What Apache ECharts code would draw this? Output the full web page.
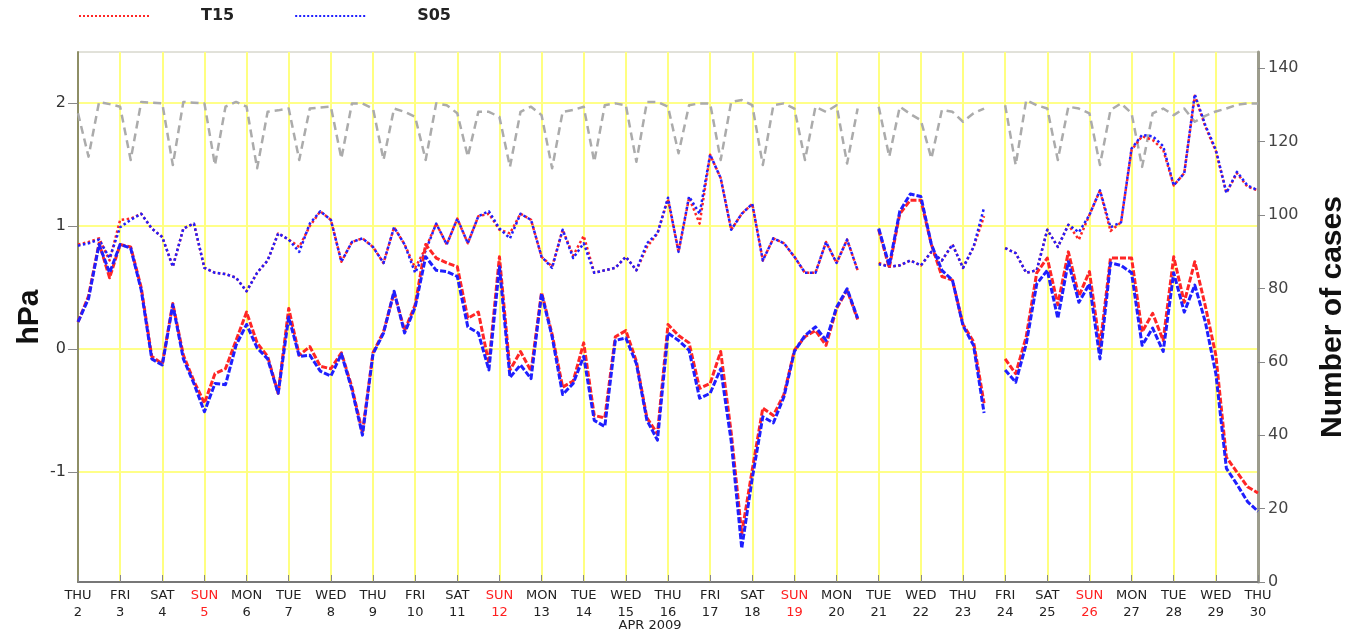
<!DOCTYPE html>
<html>
<head>
<meta charset="utf-8">
<script src="https://cdn.jsdelivr.net/npm/echarts@6/dist/echarts.min.js"></script>
<style>
  html, body { margin: 0; padding: 0; background: #ffffff; }
  #chart { width: 1348px; height: 632px; }
</style>
</head>
<body>
<div id="chart"></div>
<script>
// Day tick labels, 2-30 April 2009
const dayNames = ['THU','FRI','SAT','SUN','MON','TUE','WED','THU','FRI','SAT','SUN','MON','TUE','WED',
                  'THU','FRI','SAT','SUN','MON','TUE','WED','THU','FRI','SAT','SUN','MON','TUE','WED','THU'];
const dayNums = [2,3,4,5,6,7,8,9,10,11,12,13,14,15,16,17,18,19,20,21,22,23,24,25,26,27,28,29,30];
const hours = [0, 6, 12, 18];

// 6-hourly verification times (00, 06, 12, 18 UTC), last one 30 Apr 00 UTC
const times = [];
dayNums.forEach((d, k) => {
  hours.forEach(h => {
    if (k < dayNums.length - 1 || h === 0) times.push(d + ' ' + String(h).padStart(2, '0') + 'Z');
  });
});

// Upper pair (dotted), hPa
const t15Upper = [
  0.85,0.87,0.90,0.72, 1.05,1.06,1.10,0.98, 0.91,0.67,0.98,1.02, 0.66,0.62,0.61,0.58,
  0.47,0.62,0.72,0.94, 0.89,0.83,1.00,1.12, 1.05,0.71,0.87,0.90, 0.83,0.70,0.99,0.85,
  0.66,0.82,1.02,0.85, 1.06,0.86,1.08,1.10, 0.97,0.94,1.10,1.05, 0.75,0.67,0.97,0.76,
  0.92,0.62,0.64,0.66, 0.75,0.64,0.83,0.94, 1.22,0.79,1.23,1.02, 1.58,1.39,0.97,1.10,
  1.18,0.72,0.90,0.86, 0.75,0.62,0.62,0.87, 0.70,0.89,0.64,null, 0.70,0.67,0.68,0.72,
  0.68,0.79,0.72,0.85, 0.66,0.83,1.08,null, 0.82,0.78,0.62,0.64, 0.97,0.83,1.01,0.89,
  1.09,1.29,0.96,1.03, 1.62,1.73,1.70,1.62, 1.33,1.43,2.06,1.81, 1.61,1.27,1.43,1.32,
  1.29
];
const s05Upper = [
  0.84,0.86,0.89,0.74, 0.99,1.05,1.10,0.98, 0.91,0.67,0.98,1.02, 0.66,0.62,0.61,0.58,
  0.47,0.62,0.72,0.94, 0.89,0.79,1.02,1.12, 1.05,0.71,0.87,0.90, 0.83,0.70,0.99,0.85,
  0.62,0.80,1.02,0.85, 1.06,0.86,1.08,1.12, 0.98,0.90,1.10,1.05, 0.75,0.66,0.97,0.74,
  0.86,0.62,0.64,0.66, 0.75,0.64,0.86,0.94, 1.23,0.79,1.24,1.10, 1.58,1.39,0.97,1.10,
  1.18,0.72,0.90,0.86, 0.75,0.62,0.62,0.87, 0.70,0.89,0.64,null, 0.69,0.67,0.68,0.72,
  0.68,0.79,0.72,0.85, 0.66,0.83,1.15,null, 0.82,0.78,0.62,0.64, 0.97,0.83,1.01,0.95,
  1.09,1.29,0.99,1.03, 1.63,1.74,1.73,1.65, 1.33,1.43,2.07,1.82, 1.62,1.27,1.44,1.33,
  1.29
];

// Lower pair (dashed), hPa
const t15Lower = [
  0.22,0.43,0.86,0.58, 0.85,0.83,0.50,-0.06, -0.12,0.37,-0.05,-0.26, -0.44,-0.20,-0.16,0.07,
  0.30,0.05,-0.06,-0.36, 0.33,-0.05,0.02,-0.14, -0.16,-0.03,-0.31,-0.68, -0.03,0.14,0.46,0.15,
  0.36,0.85,0.74,0.70, 0.67,0.25,0.30,-0.12, 0.75,-0.17,-0.02,-0.18, 0.46,0.12,-0.31,-0.26,
  0.05,-0.54,-0.56,0.10, 0.15,-0.10,-0.56,-0.69, 0.20,0.11,0.05,-0.32, -0.28,-0.02,-0.68,-1.50,
  -0.98,-0.48,-0.54,-0.37, -0.01,0.10,0.15,0.03, 0.33,0.48,0.24,null, 0.97,0.66,1.10,1.21,
  1.21,0.85,0.59,0.56, 0.20,0.06,-0.44,null, -0.08,-0.20,0.10,0.62, 0.74,0.36,0.79,0.43,
  0.63,0.02,0.74,0.74, 0.74,0.14,0.29,0.07, 0.75,0.38,0.71,0.35, -0.05,-0.88,-1.00,-1.12,
  -1.17
];
const s05Lower = [
  0.22,0.41,0.85,0.62, 0.85,0.82,0.48,-0.08, -0.13,0.36,-0.08,-0.28, -0.51,-0.28,-0.29,0.03,
  0.20,0.01,-0.08,-0.36, 0.26,-0.06,-0.05,-0.18, -0.22,-0.04,-0.33,-0.70, -0.04,0.13,0.47,0.13,
  0.34,0.75,0.64,0.63, 0.59,0.18,0.13,-0.17, 0.67,-0.23,-0.13,-0.24, 0.45,0.10,-0.37,-0.28,
  -0.06,-0.58,-0.63,0.07, 0.09,-0.12,-0.58,-0.74, 0.13,0.07,-0.01,-0.40, -0.36,-0.16,-0.75,-1.62,
  -1.05,-0.55,-0.60,-0.39, -0.02,0.11,0.18,0.07, 0.34,0.49,0.25,null, 0.98,0.68,1.12,1.26,
  1.24,0.85,0.64,0.56, 0.19,0.03,-0.52,null, -0.17,-0.27,0.04,0.53, 0.64,0.25,0.71,0.38,
  0.53,-0.08,0.70,0.68, 0.62,0.03,0.17,-0.02, 0.62,0.30,0.52,0.22, -0.20,-0.97,-1.10,-1.24,
  -1.32
];

// Number of cases (right axis)
const cases = [
  127.7,115.9,130.8,130.2, 129.5,115.0,130.8,130.6, 130.4,113.6,130.8,130.6, 130.4,113.6,129.5,130.8,
  129.5,112.7,128.1,128.5, 129.0,115.0,129.0,129.3, 129.5,115.4,130.4,130.4, 129.0,115.0,129.0,128.1,
  126.7,115.0,130.4,129.9, 127.7,115.9,128.1,128.1, 126.7,113.1,128.1,129.5, 127.2,112.7,128.1,128.6,
  129.5,114.5,129.9,130.4, 129.9,114.5,130.8,130.8, 129.5,116.8,129.9,130.4, 130.4,115.0,130.8,131.3,
  129.9,113.6,129.9,130.4, 129.0,115.0,129.5,128.1, 129.9,114.0,129.0,null, 129.5,115.9,129.5,127.5,
  125.8,115.4,128.6,128.1, 125.4,127.7,129.0,null, 129.9,113.6,131.3,129.9, 129.0,115.0,129.5,129.0,
  127.7,113.6,128.6,130.4, 127.7,113.1,127.7,129.0, 127.2,129.0,125.4,127.0, 128.2,129.0,130.0,130.4,
  130.4
];

const hpaTicks = [-1, 0, 1, 2];
const caseTicks = [0, 20, 40, 60, 80, 100, 120, 140];

const RED = '#ff2626';
const BLUE = '#1f1fff';
const GREY = '#ababab';
const LABEL_FONT = 'DejaVu Sans, Liberation Sans, sans-serif';
const TITLE_FONT = 'Liberation Sans, Arial, sans-serif';
const onDay = (i) => i % 4 === 0;

function line(name, data, color, dash, width, yAxisIndex) {
  return {
    name, type: 'line', data, yAxisIndex,
    symbol: 'none', showSymbol: false, connectNulls: false,
    lineStyle: { color, width, type: dash, cap: 'butt', join: 'round' },
    itemStyle: { color },
    emphasis: { disabled: true },
    animation: false
  };
}

const chart = echarts.init(document.getElementById('chart'), null, { renderer: 'canvas' });
chart.setOption({
  backgroundColor: '#ffffff',
  textStyle: { fontFamily: LABEL_FONT },
  legend: {
    data: ['T15', 'S05'],
    left: 78, top: 8, padding: 0,
    itemWidth: 70, itemHeight: 10, itemGap: 60,
    selectedMode: false,
    itemStyle: { opacity: 0 },
    textStyle: { fontFamily: LABEL_FONT, fontSize: 16, fontWeight: 'bold', color: '#222', padding: [0, 0, 0, 47] }
  },
  grid: {
    left: 78, right: 90, top: 52, bottom: 50,
    outerBoundsMode: 'none',
    show: true, borderColor: '#c4c4b4', borderWidth: 1, backgroundColor: '#ffffff'
  },
  xAxis: {
    type: 'category',
    data: times,
    boundaryGap: false,
    name: 'APR 2009',
    nameLocation: 'middle',
    nameGap: 37,
    nameMoveOverlap: false,
    nameTextStyle: { fontFamily: LABEL_FONT, fontSize: 13, color: '#222', padding: [0, 36, 0, 0] },
    axisLine: { onZero: false, lineStyle: { color: '#777777', width: 2 } },
    axisTick: { show: true, inside: true, length: 7, interval: onDay, lineStyle: { color: '#888888', width: 1 } },
    axisLabel: {
      interval: onDay,
      margin: 5,
      formatter: (v, i) => {
        const d = i / 4;
        const st = dayNames[d] === 'SUN' ? 's' : 'd';
        return '{' + st + '|' + dayNames[d] + '}\n{' + st + '|' + dayNums[d] + '}';
      },
      rich: {
        d: { fontFamily: LABEL_FONT, fontSize: 13, lineHeight: 17, color: '#222' },
        s: { fontFamily: LABEL_FONT, fontSize: 13, lineHeight: 17, color: '#ff2020' }
      }
    },
    splitLine: { show: true, interval: onDay, lineStyle: { color: '#ffff80', width: 2 } }
  },
  yAxis: [
    {
      type: 'value', position: 'left',
      min: -1.894, max: 2.415,
      name: 'hPa', nameLocation: 'middle', nameGap: 33, nameMoveOverlap: false,
      nameTextStyle: { fontFamily: TITLE_FONT, fontSize: 30, fontWeight: 'bold', color: '#111' },
      axisLine: { show: true, lineStyle: { color: '#8e8e66', width: 2 } },
      axisTick: { show: true, length: 10, customValues: hpaTicks, lineStyle: { color: '#888888' } },
      axisLabel: { customValues: hpaTicks, fontFamily: LABEL_FONT, fontSize: 16, color: '#333', margin: 12, formatter: v => String(v) },
      splitLine: { show: true, lineStyle: { color: '#ffff60', width: 1.5 } }
    },
    {
      type: 'value', position: 'right',
      min: 0, max: 144.4,
      name: 'Number of cases', nameLocation: 'middle', nameGap: 60, nameRotate: 90, nameMoveOverlap: false,
      nameTextStyle: { fontFamily: TITLE_FONT, fontSize: 30, fontWeight: 'bold', color: '#111' },
      axisLine: { show: true, lineStyle: { color: '#9c9c8c', width: 3 } },
      axisTick: { show: true, length: 7, customValues: caseTicks, lineStyle: { color: '#888888' } },
      axisLabel: { customValues: caseTicks, fontFamily: LABEL_FONT, fontSize: 16, color: '#444', margin: 10 },
      splitLine: { show: false }
    }
  ],
  series: [
    line('Number of cases', cases, GREY, [8, 5], 2.5, 1),
    line('T15', t15Upper, RED, 'dotted', 2.5, 0),
    line('S05', s05Upper, BLUE, 'dotted', 2.5, 0),
    line('T15', t15Lower, RED, [6, 2], 3, 0),
    line('S05', s05Lower, BLUE, [6, 2], 3, 0)
  ]
});
</script>
</body>
</html>
